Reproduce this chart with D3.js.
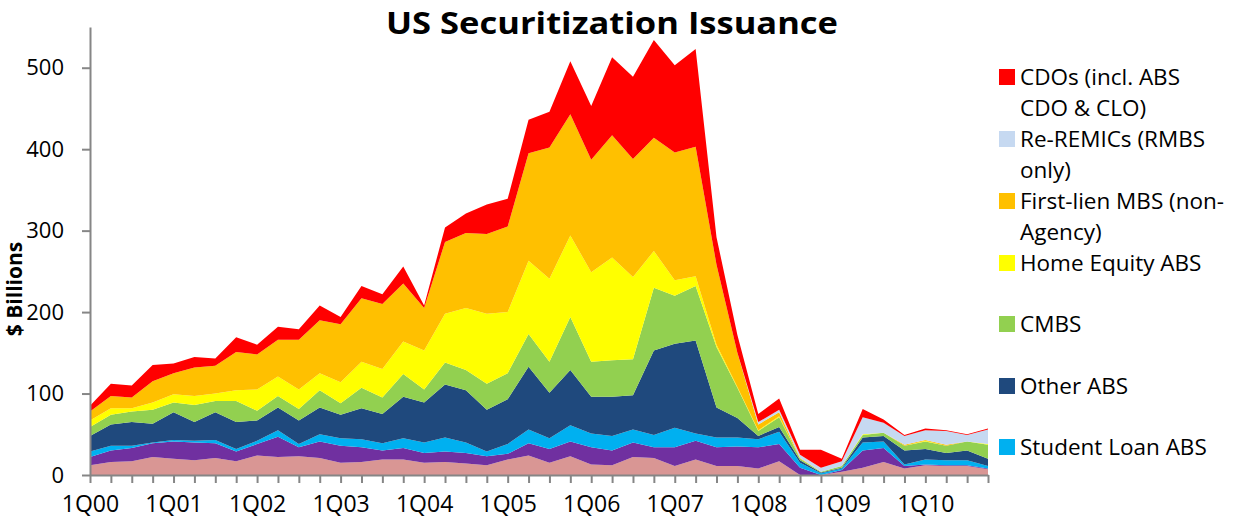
<!DOCTYPE html>
<html>
<head>
<meta charset="utf-8">
<script src="https://cdn.jsdelivr.net/npm/d3@7"></script>
<style>
  body { margin: 0; background: #fff; }
  text { font-family: "Open Sans", sans-serif; fill: #000; }
</style>
</head>
<body>
<div id="chart"></div>
<script>
const quarters = [
  "1Q00","2Q00","3Q00","4Q00","1Q01","2Q01","3Q01","4Q01",
  "1Q02","2Q02","3Q02","4Q02","1Q03","2Q03","3Q03","4Q03",
  "1Q04","2Q04","3Q04","4Q04","1Q05","2Q05","3Q05","4Q05",
  "1Q06","2Q06","3Q06","4Q06","1Q07","2Q07","3Q07","4Q07",
  "1Q08","2Q08","3Q08","4Q08","1Q09","2Q09","3Q09","4Q09",
  "1Q10","2Q10","3Q10","4Q10"
];

// $ billions per quarter, bottom of the stack first
const creditCard = [12,16,17,22,20,18,21,17,24,22,23,21,15,16,19,19,15,16,14,12,19,24,15,23,13,12,22,21,11,19,11,11,8,17,0,0,4,9,16,8,12,11,11,7];
const autoAbs    = [10,14,16,17,21,22,18,12,14,25,11,20,21,18,11,14,12,13,13,11,7,15,17,18,21,18,18,13,23,23,23,24,26,21,9,0,2,21,17,3,1,1,1,1];
const studentLoan = [7,6,3,1,2,2,4,3,4,8,4,9,9,10,9,12,13,17,13,6,12,17,13,20,17,18,16,15,24,9,12,11,10,15,6,2,2,10,8,2,6,6,6,3];
const otherAbs   = [19,26,29,23,34,23,34,33,25,28,29,33,29,38,36,51,49,65,64,51,55,77,56,68,45,48,42,104,103,114,37,24,4,6,3,1,1,6,7,17,13,9,12,9];
const cmbs       = [11,12,13,17,12,21,14,26,12,14,14,21,14,25,20,28,16,27,25,32,32,40,38,65,43,45,44,77,59,67,74,37,6,12,2,1,2,3,4,6,9,9,11,17];
const homeEquity = [8,8,4,9,10,11,9,13,26,24,24,21,26,32,35,40,48,60,76,86,75,90,102,100,110,126,101,45,19,12,3,1,1,1,0,0,0,1,0,0,1,0,0,1];
const firstLien  = [11,15,13,26,26,35,34,47,43,45,61,65,71,78,80,71,52,88,92,98,105,132,161,149,138,150,145,139,157,159,98,42,7,5,1,0,0,0,0,1,1,1,0,0];
const reRemics   = [0,0,0,0,0,0,0,0,0,0,0,0,0,0,0,0,0,0,0,0,0,0,0,0,0,0,0,0,0,0,0,0,3,3,4,5,6,21,12,11,12,17,8,18];
const cdos       = [7,15,15,20,12,13,9,18,12,16,13,18,9,15,12,21,3,18,24,36,34,41,44,65,66,96,101,120,107,120,34,22,10,14,6,22,3,10,4,1,2,1,1,1];

const seriesNames = [
  "Credit Card ABS", "Auto ABS", "Student Loan ABS", "Other ABS", "CMBS",
  "Home Equity ABS", "First-lien MBS (non-Agency)", "Re-REMICs (RMBS only)",
  "CDOs (incl. ABS CDO & CLO)"
];
const seriesData = [creditCard, autoAbs, studentLoan, otherAbs, cmbs, homeEquity, firstLien, reRemics, cdos];
const seriesColors = ["#D99694","#7030A0","#00B0F0","#1F497D","#92D050","#FFFF00","#FFC000","#C6D9F1","#FF0000"];

const yTicks = [0, 100, 200, 300, 400, 500];
const xLabels = ["1Q00","1Q01","1Q02","1Q03","1Q04","1Q05","1Q06","1Q07","1Q08","1Q09","1Q10"];

// legend only shows the top seven series, wrapped like the original
const legendItems = [
  { idx: 8, lines: ["CDOs (incl. ABS", "CDO & CLO)"] },
  { idx: 7, lines: ["Re-REMICs (RMBS", "only)"] },
  { idx: 6, lines: ["First-lien MBS (non-", "Agency)"] },
  { idx: 5, lines: ["Home Equity ABS"] },
  { idx: 4, lines: ["CMBS"] },
  { idx: 3, lines: ["Other ABS"] },
  { idx: 2, lines: ["Student Loan ABS"] },
];

const width = 1236, height = 525;
const plot = { left: 90, right: 988, top: 27, bottom: 475 };

const svg = d3.select("#chart").append("svg")
  .attr("width", width)
  .attr("height", height);

// build the table for d3.stack
const table = quarters.map((q, i) => {
  const row = { q: q, i: i };
  seriesData.forEach((s, k) => { row["s" + k] = s[i]; });
  return row;
});
const keys = seriesData.map((s, k) => "s" + k);
const stacked = d3.stack().keys(keys)(table);

const x = d3.scaleLinear().domain([0, quarters.length - 1]).range([plot.left, plot.right]);
const y = d3.scaleLinear().domain([0, 550]).range([plot.bottom, plot.top]);

const area = d3.area()
  .x((d) => x(d.data.i))
  .y0((d) => y(d[0]))
  .y1((d) => y(d[1]));

svg.append("g")
  .selectAll("path")
  .data(stacked)
  .join("path")
  .attr("d", area)
  .attr("fill", (d, k) => seriesColors[k]);

// y axis
const yAxis = svg.append("g")
  .attr("transform", `translate(${plot.left},0)`)
  .call(d3.axisLeft(y).tickValues(yTicks).tickSize(8).tickPadding(18).tickSizeOuter(0));
yAxis.select(".domain").attr("stroke", "#868686").attr("stroke-width", 2);
yAxis.selectAll(".tick line").attr("stroke", "#868686").attr("stroke-width", 2);
yAxis.selectAll(".tick text")
  .style("font-size", "22px")
  .style("font-family", "'Open Sans', sans-serif")
  .attr("fill", "#000");

// x axis, tick on every quarter, label every year
const xAxis = svg.append("g")
  .attr("transform", `translate(0,${plot.bottom})`)
  .call(d3.axisBottom(x)
    .tickValues(d3.range(quarters.length))
    .tickSize(8)
    .tickSizeOuter(0)
    .tickPadding(13)
    .tickFormat((i) => xLabels.includes(quarters[i]) ? quarters[i] : ""));
xAxis.select(".domain").attr("stroke", "#868686").attr("stroke-width", 2);
xAxis.selectAll(".tick line").attr("stroke", "#868686").attr("stroke-width", 2);
xAxis.selectAll(".tick text")
  .style("font-size", "23px")
  .style("font-family", "'Open Sans', sans-serif")
  .attr("fill", "#000");

// title
svg.append("text")
  .attr("x", 612)
  .attr("y", 33.5)
  .attr("text-anchor", "middle")
  .style("font-size", "31px")
  .style("font-weight", "bold")
  .attr("textLength", 452)
  .attr("lengthAdjust", "spacingAndGlyphs")
  .text("US Securitization Issuance");

// y label
svg.append("text")
  .attr("transform", "translate(22,289) rotate(-90)")
  .attr("text-anchor", "middle")
  .style("font-size", "21px")
  .style("font-weight", "bold")
  .text("$ Billions");

// legend
const legendY = [77, 139, 201, 263, 324, 386, 447];
const legend = svg.append("g");
legendItems.forEach((item, n) => {
  const g = legend.append("g").attr("transform", `translate(999,${legendY[n]})`);
  g.append("rect")
    .attr("x", 0).attr("y", -8)
    .attr("width", 16).attr("height", 16)
    .attr("fill", seriesColors[item.idx]);
  item.lines.forEach((line, j) => {
    g.append("text")
      .attr("x", 21)
      .attr("y", 8 + j * 31)
      .style("font-size", "22.5px")
      .text(line);
  });
});
</script>
</body>
</html>
